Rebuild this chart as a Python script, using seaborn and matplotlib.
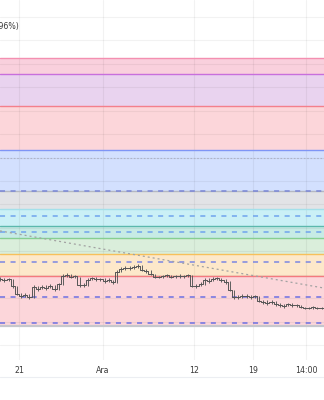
import numpy as np
import pandas as pd
import matplotlib
matplotlib.use("Agg")
import matplotlib.pyplot as plt
import seaborn as sns
from matplotlib.lines import Line2D

# ---------------- data ----------------
# time axis in days from 21 Nov (0.5-day steps)
days = np.arange(-2.25, 36.76, 0.5)
close = [22.82, 22.77, 22.82, 22.52, 22.18, 22.09, 22.13, 22.05, 22.48, 22.39,
         22.48, 22.43, 22.52, 22.39, 22.60, 22.94, 22.99, 22.90, 22.94, 22.56,
         22.56, 22.77, 22.86, 22.82, 22.82, 22.73, 22.77, 22.69, 23.12, 23.24,
         23.29, 23.29, 23.33, 23.37, 23.20, 23.16, 23.03, 22.90, 22.90, 22.94,
         22.99, 22.90, 22.94, 22.94, 22.94, 22.99, 22.52, 22.52, 22.60, 22.77,
         22.73, 22.82, 22.86, 22.77, 22.69, 22.35, 22.05, 22.05, 22.09, 22.09,
         22.05, 22.09, 21.88, 21.84, 21.79, 21.84, 21.75, 21.71, 21.66, 21.75,
         21.71, 21.71, 21.62, 21.58, 21.58, 21.62, 21.58, 21.58, 21.58]
high = [22.90, 22.86, 22.88, 22.80, 22.52, 22.20, 22.22, 22.18, 22.56, 22.52,
        22.58, 22.54, 22.60, 22.55, 22.66, 23.05, 23.08, 23.02, 23.00, 22.92,
        22.64, 22.84, 22.92, 22.90, 22.88, 22.84, 22.84, 22.78, 23.18, 23.32,
        23.36, 23.38, 23.42, 23.46, 23.40, 23.26, 23.18, 23.05, 22.96, 23.00,
        23.04, 23.00, 23.00, 23.02, 23.00, 23.04, 22.99, 22.62, 22.68, 22.84,
        22.84, 22.90, 22.92, 22.88, 22.80, 22.72, 22.35, 22.12, 22.16, 22.18,
        22.14, 22.14, 22.10, 21.92, 21.90, 21.90, 21.86, 21.80, 21.74, 21.80,
        21.78, 21.76, 21.72, 21.64, 21.64, 21.66, 21.64, 21.62, 21.62]
low = [22.74, 22.70, 22.74, 22.44, 22.12, 22.00, 22.04, 21.98, 22.02, 22.32,
       22.38, 22.36, 22.42, 22.30, 22.36, 22.58, 22.90, 22.84, 22.86, 22.48,
       22.48, 22.52, 22.76, 22.74, 22.74, 22.66, 22.70, 22.62, 22.64, 23.10,
       23.20, 23.22, 23.26, 23.28, 23.14, 23.08, 22.98, 22.84, 22.84, 22.86,
       22.92, 22.84, 22.88, 22.88, 22.88, 22.92, 22.46, 22.44, 22.50, 22.56,
       22.66, 22.74, 22.78, 22.70, 22.62, 22.30, 21.98, 21.98, 22.02, 22.02,
       21.98, 22.02, 21.82, 21.76, 21.72, 21.76, 21.68, 21.64, 21.60, 21.66,
       21.64, 21.64, 21.56, 21.52, 21.52, 21.54, 21.52, 21.52, 21.52]

# zone boundaries (top of each zone) and bottom of the last zone
zone_tops = [32.25, 31.57, 30.20, 28.32, 26.57, 25.80, 25.08, 24.57, 23.88, 22.94]
zone_bottom = 20.81
zone_fill = ["#f9d0dd", "#e9d3ef", "#fcd6da", "#d3e0fe", "#e2e3e6",
             "#caf0f6", "#c7ebe5", "#daeedb", "#fde8ca", "#fcd6da"]
zone_edge = ["#f48fb1", "#c86fdc", "#f47f8c", "#7e95f6", "#b4b8c2",
             "#a4e0ea", "#5cb8ad", "#86cf91", "#f7c05a", "#f47a7f"]

dashed_levels = [26.57, 25.51, 24.82, 23.54, 22.05, 20.94]
dashed_colors = ["#7a86d6", "#6fa4ee", "#6fa4ee", "#7b87e2", "#6c70e3", "#6c70e3"]
dotted_level = 27.98

trend_days = [-2.28, 36.53]
trend_price = [24.87, 22.43]

tick_days = [0, 10, 21, 28, 34.4]
tick_labels = ["21", "Ara", "12", "19", "14:00"]

grid_prices = list(range(20, 35))

# ---------------- figure ----------------
sns.set_theme(style="white")
plt.rcParams["font.family"] = ["DejaVu Sans"]

fig = plt.figure(figsize=(3.24, 4.0), dpi=100)
ax = fig.add_axes([0, 0.1, 1, 0.9])
ax.set_xlim(-2.28, 36.53)
ax.set_ylim(19.36, 34.724)

# zones
bounds = zone_tops + [zone_bottom]
for i in range(len(zone_tops)):
    ax.axhspan(bounds[i + 1], bounds[i], color=zone_fill[i], lw=0, zorder=1)
    ax.axhline(zone_tops[i], color=zone_edge[i], lw=1.0, zorder=3)
ax.axhline(zone_bottom, color="#c6c7cc", lw=1.6, zorder=3)

# grid
for g in grid_prices:
    ax.axhline(g, color="#000000", alpha=0.05, lw=0.8, zorder=2)
for t in tick_days:
    ax.axvline(t, color="#000000", alpha=0.05, lw=0.8, zorder=2)

# levels
for lv, c in zip(dashed_levels, dashed_colors):
    ax.axhline(lv, color=c, lw=1.1, ls=(0, (3.3, 3.6)), zorder=4)
ax.axhline(dotted_level, color="#aeb4c8", lw=0.8, ls=(0, (1.5, 1.5)), zorder=4)

# trend line
sns.lineplot(x=trend_days, y=trend_price, ax=ax, color="#a2a2a2", lw=0.9,
             ls=(0, (1.6, 2.4)), zorder=5)

# price (candle wicks + close path)
df = pd.DataFrame({"day": days, "close": close, "high": high, "low": low})
ax.vlines(df["day"], df["low"], df["high"], color="#5e5e5e", lw=0.7, zorder=6)
sns.lineplot(data=df, x="day", y="close", ax=ax, color="#555555", lw=0.7,
             drawstyle="steps-mid", zorder=6)

ax.set_xticks(tick_days)
ax.set_xticklabels(tick_labels, fontsize=5.7, color="#3a3a3a")
ax.tick_params(axis="x", length=0, pad=4.5)
ax.set_yticks([])
ax.set_xlabel("")
ax.set_ylabel("")
for s in ax.spines.values():
    s.set_visible(False)

fig.text(19 / 324, 1 - 27 / 400, "(0.96%)", ha="right", va="center",
         fontsize=5.7, color="#3a3a3a")
fig.add_artist(Line2D([0, 1], [1 - 377 / 400, 1 - 377 / 400],
                      color="#eceef2", lw=0.8))

fig.savefig("out.png", dpi=100)
